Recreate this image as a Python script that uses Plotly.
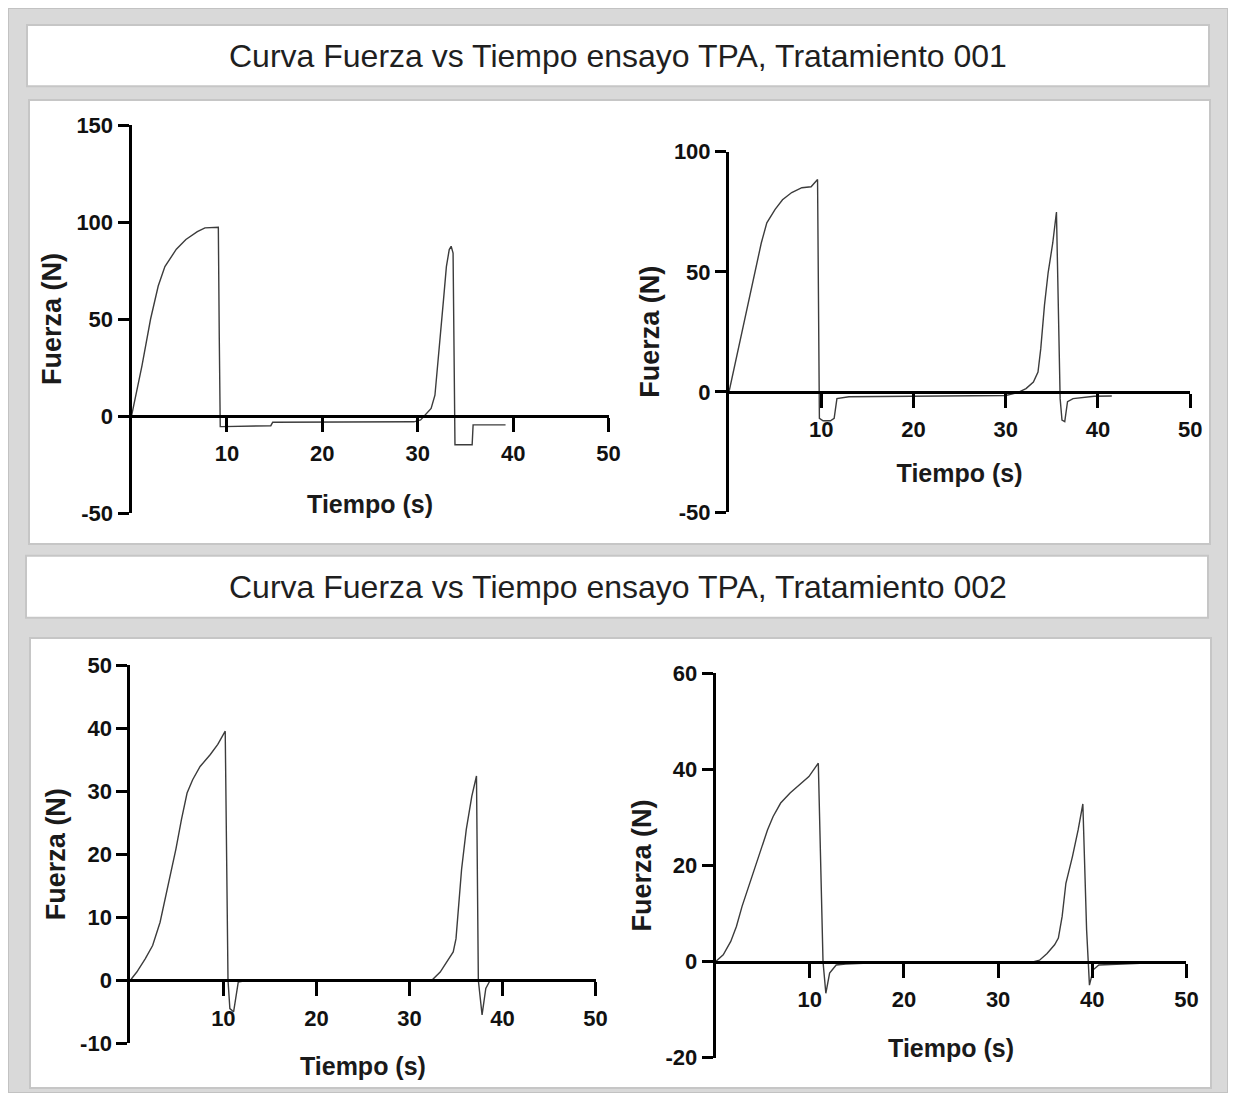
import plotly.graph_objects as go

# ---------------- data ----------------
t_001a = [0, 1.1, 2.0, 2.8, 3.5, 4.7, 5.7, 6.9, 7.7, 8.5, 9.1, 9.2, 9.3, 9.5, 12.0, 14.6, 14.8, 20.0, 29.6,
          30.3, 30.8, 31.4, 31.8, 32.1, 32.4, 32.7, 33.0, 33.3, 33.5, 33.7, 33.9, 35.7, 35.8, 39.2]
f_001a = [0, 26, 50, 67, 77, 86, 91, 95, 97, 97.3, 97.3, 40, -5.5, -5.5, -5.3, -5.0, -3.2, -3.0, -3.0,
          -2.0, 0.5, 3.9, 10.7, 26, 43, 60, 77, 85.8, 87.5, 84, -14.8, -14.8, -4.6, -4.6]

t_001b = [0, 1.4, 2.8, 3.5, 4.1, 5.0, 5.8, 6.8, 7.9, 8.9, 9.6, 9.8, 10.2, 11.0, 11.4, 11.7, 13.0, 20.0, 30.0,
          31.3, 32.2, 33.0, 33.5, 33.8, 34.2, 34.6, 35.1, 35.5, 35.9, 36.1, 36.4, 36.7, 37.3, 39.6, 41.5]
f_001b = [0, 24.9, 50, 62, 70.4, 76, 80, 83, 85, 85.4, 88.4, -11, -12, -12, -11, -2.8, -2.0, -1.7, -1.5,
          -0.3, 1.4, 4.1, 8.3, 18, 36, 49.7, 62, 74.9, -2.8, -11.7, -12.4, -4.1, -2.8, -1.8, -1.7]

t_002a = [0, 0.7, 1.6, 2.4, 3.2, 4.0, 4.9, 5.5, 6.1, 6.7, 7.5, 8.6, 9.4, 10.2, 10.5, 10.7, 11.1, 11.6, 12.3, 20.0,
          32.4, 33.3, 34.1, 34.7, 35.0, 35.2, 35.6, 36.1, 36.7, 37.2, 37.4, 37.8, 38.2, 38.6]
f_002a = [0, 1.3, 3.4, 5.5, 9.2, 14.5, 20.8, 25.5, 29.7, 31.8, 33.9, 35.8, 37.4, 39.5, 0, -4.5, -5.0, -0.3, -0.1, 0,
          0, 1.3, 3.2, 4.5, 6.6, 10.8, 17.6, 23.9, 29.2, 32.4, 0, -5.5, -1.3, -0.2]

t_002b = [0, 0.8, 1.6, 2.2, 2.8, 3.6, 4.5, 5.5, 6.1, 6.9, 7.9, 8.9, 9.9, 10.9, 11.4, 11.7, 12.1, 12.8, 13.8, 20.0,
          33.8, 34.4, 35.2, 36.0, 36.4, 36.8, 37.2, 37.9, 38.5, 39.0, 39.4, 39.7, 40.1, 40.7, 45.7]
f_002b = [0, 1.4, 4.2, 7.3, 11.5, 16.3, 21.2, 27.4, 30.2, 33.0, 35.1, 36.8, 38.5, 41.3, 0, -6.6, -2.4, -0.7, -0.5, 0,
          0, 0.3, 1.7, 3.5, 4.9, 9.4, 16.3, 21.9, 27.4, 32.8, 6.6, -4.9, -1.7, -0.7, -0.3]

header_titles = ["Curva Fuerza vs Tiempo ensayo TPA, Tratamiento 001",
                 "Curva Fuerza vs Tiempo ensayo TPA, Tratamiento 002"]
x_label = "Tiempo (s)"
y_label = "Fuerza (N)"
x_ticks = [10, 20, 30, 40, 50]
x_ticklabels = ["10", "20", "30", "40", "50"]
y_ticks = [[-50, 0, 50, 100, 150], [-50, 0, 50, 100], [-10, 0, 10, 20, 30, 40, 50], [-20, 0, 20, 40, 60]]
y_ticklabels = [["-50", "0", "50", "100", "150"], ["-50", "0", "50", "100"],
                ["-10", "0", "10", "20", "30", "40", "50"], ["-20", "0", "20", "40", "60"]]
y_ranges = [[-50, 150], [-50, 100], [-10, 50], [-20, 60]]
x_range = [0, 50]

series = [(t_001a, f_001a), (t_001b, f_001b), (t_002a, f_002a), (t_002b, f_002b)]

# ---------------- layout geometry (pixels -> paper) ----------------
W, H, OX, OY = 1220, 1085, 8, 8
def px(X):
    return (X - OX) / W
def py(Y):
    return 1 - (Y - OY) / H

# subplot boxes in page pixels: (left, right, top, bottom)
boxes = [(131.5, 608.6, 125, 513), (729, 1190.2, 151.7, 512),
         (130.3, 595.6, 665, 1043.3), (715.7, 1186.4, 673.3, 1057.7)]
x_title_standoffs = [30, 23, 27, 28]

FONT = "Liberation Sans, Arial, sans-serif"
tick_font = dict(family=FONT, size=22, color="#111111", weight="bold")
xtitle_font = dict(family=FONT, size=25, color="#1a1a1a", weight="bold")
ytitle_font = dict(family=FONT, size=27, color="#1a1a1a", weight="bold")

fig = go.Figure()
layout = dict(
    template="none",
    width=W, height=H, margin=dict(l=0, r=0, t=0, b=0, pad=0, autoexpand=False),
    paper_bgcolor="#d9d9d9", plot_bgcolor="rgba(0,0,0,0)", showlegend=False,
)

for i, ((t, f), (l, r, top, bot)) in enumerate(zip(series, boxes)):
    n = "" if i == 0 else str(i + 1)
    xd = [px(l), px(r)]
    yd = [py(bot), py(top)]
    ymin, ymax = y_ranges[i]
    zero_pos = yd[0] + (0 - ymin) / (ymax - ymin) * (yd[1] - yd[0])
    fig.add_trace(go.Scatter(x=t, y=f, mode="lines", line=dict(color="#3c3c3c", width=1.4),
                             xaxis="x" + n, yaxis="y" + n, hoverinfo="x+y"))
    layout["xaxis" + n] = dict(
        domain=xd, range=x_range, anchor="free", position=zero_pos, automargin=False,
        showline=True, linecolor="black", linewidth=3, showgrid=False, zeroline=False,
        ticks="outside", ticklen=14, tickwidth=3, tickcolor="black", ticklabelstandoff=3,
        tickvals=x_ticks, ticktext=x_ticklabels, tickfont=tick_font,
        title=dict(text=x_label, font=xtitle_font, standoff=x_title_standoffs[i]),
    )
    layout["yaxis" + n] = dict(
        domain=yd, range=y_ranges[i], anchor="x" + n, automargin=False,
        showline=True, linecolor="black", linewidth=3, showgrid=False, zeroline=False,
        ticks="outside", ticklen=11, tickwidth=3, tickcolor="black",
        tickvals=y_ticks[i], ticktext=y_ticklabels[i], tickfont=tick_font,
        title=dict(text=y_label, font=ytitle_font, standoff=7),
    )

shapes = [
    dict(type="rect", xref="paper", yref="paper", x0=0, x1=1, y0=0, y1=1,
         line=dict(color="#c2c2c2", width=2), fillcolor="rgba(0,0,0,0)", layer="below"),
]
for (l, r, top, bot) in [(27, 1209, 25, 86.3), (29, 1210, 100, 544),
                         (26, 1208, 555.7, 617.7), (30, 1211, 638, 1088)]:
    shapes.append(dict(type="rect", xref="paper", yref="paper",
                       x0=px(l), x1=px(r), y0=py(bot), y1=py(top),
                       line=dict(color="#c6c6c6", width=2), fillcolor="white", layer="below"))
layout["shapes"] = shapes

layout["annotations"] = [
    dict(text=header_titles[0], xref="paper", yref="paper", x=px(618), y=py(55.7),
         showarrow=False, xanchor="center", yanchor="middle",
         font=dict(family=FONT, size=32, color="#1f1f1f")),
    dict(text=header_titles[1], xref="paper", yref="paper", x=px(618), y=py(586.7),
         showarrow=False, xanchor="center", yanchor="middle",
         font=dict(family=FONT, size=32, color="#1f1f1f")),
]

fig.update_layout(**layout)
fig.write_html("out.html")
